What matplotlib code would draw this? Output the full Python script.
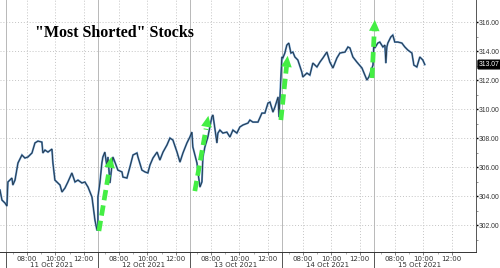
import numpy as np
import matplotlib.pyplot as plt
import matplotlib.transforms as mtransforms

# sessions run 06:30 - 13:00, one block per day
days = ["11 Oct 2021", "12 Oct 2021", "13 Oct 2021", "14 Oct 2021", "15 Oct 2021"]

t_11 = [6.08, 6.22, 6.43, 6.57, 6.64, 6.92, 6.99, 7.14, 7.35, 7.63, 7.84, 8.05, 8.34, 8.55, 8.76,
        9.04, 9.11, 9.26, 9.47, 9.75, 9.82, 9.96, 10.10, 10.32, 10.46, 10.67, 10.88, 11.16, 11.38,
        11.59, 11.87, 12.08, 12.30, 12.58, 12.79, 12.93, 13.0]
p_11 = [304.41, 303.72, 303.52, 303.31, 304.97, 305.24, 304.76, 305.10, 306.28, 306.83, 306.62,
        306.69, 306.97, 307.66, 307.79, 307.72, 306.97, 307.17, 307.03, 307.24, 306.28, 305.10,
        304.97, 304.76, 304.28, 304.55, 304.97, 305.59, 304.97, 305.10, 304.90, 304.97, 304.62,
        303.93, 302.34, 301.66, 301.66]

t_12 = [6.5, 6.64, 6.78, 6.85, 6.99, 7.14, 7.21, 7.35, 7.56, 7.70, 7.91, 8.20, 8.27, 8.55, 8.76,
        8.98, 9.26, 9.33, 9.61, 9.83, 10.03, 10.18, 10.39, 10.68, 10.88, 11.10, 11.38, 11.59,
        11.80, 12.09, 12.30, 12.51, 12.79, 13.0]
p_12 = [303.93, 304.90, 306.28, 306.69, 307.03, 306.00, 306.69, 304.90, 306.69, 306.34, 305.79,
        305.66, 305.31, 305.24, 306.00, 306.83, 306.97, 306.69, 305.79, 305.66, 305.59, 306.14,
        306.62, 307.03, 306.48, 307.03, 307.52, 308.00, 307.86, 307.03, 306.34, 306.97, 307.66,
        308.07]

t_13 = [6.64, 6.71, 7.0, 7.07, 7.21, 7.35, 7.42, 7.56, 7.77, 8.05, 8.13, 8.41, 8.48, 8.62, 8.83,
        9.11, 9.33, 9.54, 9.82, 10.03, 10.25, 10.60, 10.74, 10.95, 11.31, 11.59, 11.80, 12.02,
        12.16, 12.37, 12.51, 12.73, 12.80]
p_13 = [308.41, 307.38, 306.28, 305.66, 304.62, 304.97, 306.69, 307.38, 308.07, 309.45, 309.59,
        307.66, 308.34, 308.55, 308.34, 308.41, 308.07, 308.55, 308.34, 308.76, 308.90, 309.03,
        309.24, 309.10, 309.10, 309.72, 309.72, 310.41, 310.48, 309.79, 310.14, 310.83, 309.45]

t_14 = [6.50, 6.57, 6.71, 6.85, 6.99, 7.14, 7.28, 7.42, 7.63, 7.91, 7.98, 8.27, 8.48, 8.69, 8.98,
        9.19, 9.40, 9.68, 9.89, 10.11, 10.39, 10.60, 10.96, 11.17, 11.31, 11.52, 11.80, 12.16,
        12.37, 12.51, 12.65, 12.87, 12.94]
p_14 = [313.59, 313.52, 313.86, 314.41, 314.55, 313.86, 313.93, 313.59, 313.38, 312.55, 312.21,
        312.48, 312.34, 313.17, 312.90, 313.24, 313.52, 313.93, 313.24, 312.83, 313.52, 313.86,
        313.93, 314.28, 314.21, 313.59, 313.24, 312.83, 312.34, 312.00, 312.21, 312.83, 313.03]

t_15 = [6.50, 6.57, 6.78, 6.92, 7.14, 7.28, 7.35, 7.42, 7.49, 7.70, 7.84, 7.98, 8.20, 8.48, 8.69,
        8.90, 9.19, 9.33, 9.54, 9.75, 9.96, 10.10]
p_15 = [314.55, 314.21, 314.55, 314.62, 314.28, 314.41, 313.17, 314.28, 314.55, 314.97, 315.10,
        314.62, 314.62, 314.55, 314.28, 314.07, 313.86, 313.03, 312.90, 313.59, 313.38, 313.07]

times = [t_11, t_12, t_13, t_14, t_15]
prices = [p_11, p_12, p_13, p_14, p_15]
last_price = 313.07

# green arrows: (day, start time, start price, end time, end price)
arrows = [(1, 6.57, 301.59, 7.49, 306.9),
          (2, 6.85, 304.34, 7.84, 309.72),
          (3, 6.43, 309.24, 6.93, 313.86),
          (4, 6.37, 312.14, 6.58, 316.34)]

ticks_hours = [8, 10, 12]
yticks = [302, 304, 306, 308, 310, 312, 314, 316]

SESSION = 6.5
OPEN = 6.5


def xpos(day, t):
    return day * SESSION + (np.asarray(t) - OPEN)


x = np.concatenate([xpos(d, t) for d, t in enumerate(times)])
y = np.concatenate(prices)

fig = plt.figure(figsize=(5, 2.68), dpi=100)
ax = fig.add_axes([0, 16 / 268, 476 / 500, 252 / 268])
ax.set_xlim(-0.42, 33.22)
ax.set_ylim(300.14, 317.52)

# grid
for v in yticks:
    ax.axhline(v, color="#c4c4c4", lw=0.7, ls=(0, (1, 2)), zorder=0)
xt = [xpos(d, h) for d in range(len(days)) for h in ticks_hours]
for v in xt:
    ax.axvline(v, color="#c4c4c4", lw=0.7, ls=(0, (1, 2)), zorder=0)
for d in range(len(days)):
    ax.axvline(d * SESSION, color="#b8b8b8", lw=0.7, zorder=0)
    ax.plot([d * SESSION] * 2, [0, -0.065], transform=ax.get_xaxis_transform(),
            color="#555555", lw=0.7, clip_on=False)

# price line
ax.plot(x, y, color="#5b8fc4", lw=1.4, zorder=2, solid_joinstyle="miter")
ax.plot(x, y, color="#22313f", lw=0.6, zorder=3)

# arrows
green = "#44ee44"
for d, t0, y0, t1, y1 in arrows:
    x0, x1 = xpos(d, t0), xpos(d, t1)
    f = 0.8
    xm, ym = x0 + f * (x1 - x0), y0 + f * (y1 - y0)
    ax.plot([x0, xm], [y0, ym], color=green, lw=3.4, ls=(0, (2.2, 1.1)), zorder=4,
            solid_capstyle="butt")
    ax.annotate("", xy=(x1, y1), xytext=(xm - 0.02 * (x1 - x0), ym - 0.02 * (y1 - y0)),
                arrowprops=dict(arrowstyle="-|>,head_width=0.38,head_length=0.8",
                                color=green, lw=0), zorder=5)

# axes styling
for s in ["left", "top"]:
    ax.spines[s].set_visible(False)
ax.spines["bottom"].set_color("#333333")
ax.spines["right"].set_color("#555555")
ax.spines["bottom"].set_linewidth(0.7)
ax.spines["right"].set_linewidth(0.7)

ax.yaxis.tick_right()
ax.set_yticks(yticks)
ax.set_yticklabels(["%.2f" % v for v in yticks], family="Liberation Sans")
ax.set_yticks([v + 1 for v in yticks[:-1]] + [301], minor=True)
ax.tick_params(axis="y", which="major", length=1.6, width=1.0, labelsize=4.9, pad=0.4,
               labelcolor="#333333")
ax.tick_params(axis="y", which="minor", length=1.5, width=0.5, color="#666666")

ax.set_xticks(xt)
ax.set_xticklabels(["%02d:00" % h for d in range(len(days)) for h in ticks_hours])
ax.set_xticks([xpos(d, h) for d in range(len(days)) for h in [7, 9, 11]], minor=True)
ax.tick_params(axis="x", which="major", length=2, width=0.6, labelsize=5, pad=1,
               labelcolor="#333333", color="#666666")
ax.tick_params(axis="x", which="minor", length=1.5, width=0.5, color="#888888")

trans = mtransforms.blended_transform_factory(ax.transData, ax.transAxes)
for d, name in enumerate(days):
    ax.text(d * SESSION + SESSION / 2, -0.052, name, transform=trans, ha="center",
            va="center", fontsize=5, color="#333333")

# last price tag
ax.text(1.006, last_price, "%.2f" % last_price, transform=ax.get_yaxis_transform(),
        ha="left", va="center", fontsize=4.9, color="white", family="Liberation Sans",
        bbox=dict(boxstyle="round,pad=0.12", fc="black", ec="black"), clip_on=False)

fig.text(35 / 500, 1 - 33 / 268, '"Most Shorted" Stocks', family="Liberation Serif",
         fontweight="bold", fontsize=11.5, va="center", ha="left")

fig.savefig("out.png", dpi=100)
